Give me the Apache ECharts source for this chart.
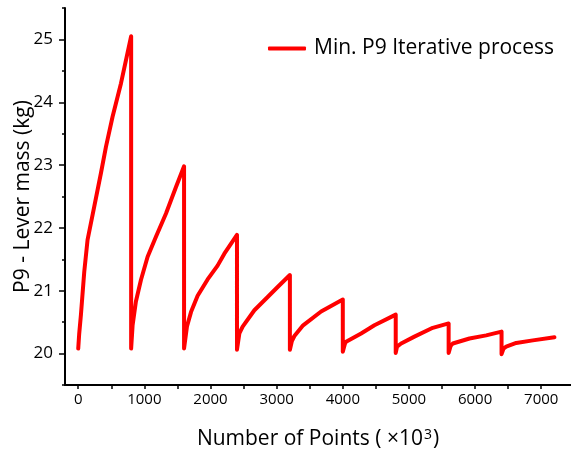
<!DOCTYPE html>
<html>
<head>
<meta charset="utf-8">
<script src="https://cdn.jsdelivr.net/npm/echarts@6/dist/echarts.min.js"></script>
<style>html,body{margin:0;padding:0;background:#fff;}#c{width:571px;height:452px;}</style>
</head>
<body>
<div id="c"></div>
<script>
// Number of points (x10^3) and P9 lever mass (kg)
const pointsX = [
  0, 15, 41, 91, 141, 242, 343, 419, 519, 646, 800,
  800, 822, 872, 948, 1049, 1175, 1327, 1478, 1600,
  1600, 1644, 1705, 1805, 1956, 2107, 2209, 2400,
  2400, 2436, 2486, 2663, 2864, 3015, 3200,
  3200, 3230, 3268, 3400, 3672, 4000,
  4000, 4030, 4050, 4277, 4478, 4800,
  4800, 4820, 4882, 5083, 5360, 5600,
  5600, 5630, 5663, 5915, 6168, 6400,
  6400, 6430, 6470, 6622, 6873, 7200
];
const massKg = [
  20.08, 20.32, 20.62, 21.30, 21.81, 22.34, 22.87, 23.29, 23.77, 24.30, 25.05,
  20.08, 20.45, 20.83, 21.17, 21.54, 21.86, 22.23, 22.65, 22.98,
  20.08, 20.43, 20.66, 20.92, 21.18, 21.40, 21.59, 21.89,
  20.06, 20.32, 20.43, 20.69, 20.90, 21.06, 21.25,
  20.06, 20.20, 20.28, 20.45, 20.67, 20.86,
  20.03, 20.15, 20.19, 20.32, 20.45, 20.62,
  20.01, 20.11, 20.16, 20.27, 20.41, 20.48,
  20.01, 20.12, 20.16, 20.24, 20.29, 20.35,
  19.99, 20.08, 20.11, 20.17, 20.21, 20.26
];
const xTickLabels = [0, 1000, 2000, 3000, 4000, 5000, 6000, 7000];
const xTicks = [0, 500, 1000, 1500, 2000, 2500, 3000, 3500, 4000, 4500, 5000, 5500, 6000, 6500, 7000];
const yTickLabels = [20, 21, 22, 23, 24, 25];
const yMinorTicks = [19.5, 20.5, 21.5, 22.5, 23.5, 24.5, 25.5];
const seriesName = 'Min. P9 Iterative process';

const FONT = '"Open Sans", "Noto Sans", sans-serif';
const chart = echarts.init(document.getElementById('c'), null, {renderer: 'canvas'});
const data = pointsX.map((x, i) => [x, massKg[i]]);

chart.setOption({
  animation: false,
  backgroundColor: '#ffffff',
  textStyle: {fontFamily: FONT},
  grid: {left: 65, right: 0, top: 8, bottom: 67, containLabel: false, outerBoundsMode: 'none'},
  legend: {
    left: 268, top: 38, padding: 0,
    itemWidth: 38, itemHeight: 4,
    data: [{name: seriesName, icon: 'roundRect'}],
    itemStyle: {color: '#ff0000'},
    textStyle: {fontFamily: FONT, fontSize: 21, color: '#000', padding: [0, 0, 0, 3]}
  },
  xAxis: {
    type: 'value', min: -200, max: 7450,
    name: 'Number of Points ( ×10{sup|3})',
    nameLocation: 'middle', nameGap: 43, nameMoveOverlap: false,
    nameTextStyle: {
      fontFamily: FONT, fontSize: 21, color: '#000',
      rich: {sup: {fontFamily: FONT, fontSize: 14, color: '#000', padding: [0, 1, 9, 1]}}
    },
    axisLine: {show: true, onZero: false, lineStyle: {color: '#000', width: 2}},
    axisTick: {show: true, length: 4, customValues: xTicks, lineStyle: {color: '#000', width: 1.5}},
    axisLabel: {customValues: xTickLabels, formatter: v => String(v), fontFamily: FONT, fontSize: 15, color: '#000', margin: 7},
    splitLine: {show: false}
  },
  yAxis: [{
    type: 'value', min: 19.5, max: 25.5,
    name: 'P9 - Lever mass (kg)',
    nameLocation: 'middle', nameGap: 31, nameMoveOverlap: false,
    nameTextStyle: {fontFamily: FONT, fontSize: 21, color: '#000'},
    axisLine: {show: true, onZero: false, lineStyle: {color: '#000', width: 2}},
    axisTick: {show: true, length: 6, customValues: yTickLabels, lineStyle: {color: '#000', width: 1.5}},
    axisLabel: {customValues: yTickLabels, formatter: v => String(v), fontFamily: FONT, fontSize: 17, color: '#000', margin: 12},
    splitLine: {show: false}
  }, {
    type: 'value', min: 19.5, max: 25.5, position: 'left',
    axisLine: {show: false, onZero: false},
    axisTick: {show: true, length: 3, customValues: yMinorTicks, lineStyle: {color: '#000', width: 1.5}},
    axisLabel: {show: false},
    splitLine: {show: false}
  }],
  series: [{
    name: seriesName,
    type: 'line',
    data: data,
    yAxisIndex: 0,
    symbol: 'none',
    lineStyle: {color: '#ff0000', width: 4, cap: 'round', join: 'round'},
    itemStyle: {color: '#ff0000'}
  }]
});
</script>
</body>
</html>
